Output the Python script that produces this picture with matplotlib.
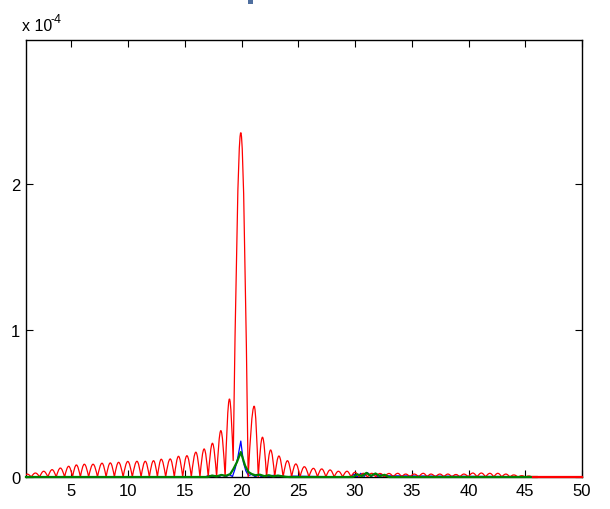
import matplotlib
matplotlib.use("Agg")
import matplotlib.pyplot as plt
from matplotlib.patches import Rectangle, PathPatch
from matplotlib.path import Path

plt.rcParams['font.family'] = ['Liberation Sans', 'DejaVu Sans']

# ---- data (values in units of 1e-4) ----
red_peak_x = [1.10, 1.83, 2.56, 3.30, 4.03, 4.76, 5.44, 6.14, 6.91, 7.70, 8.43, 9.16,
              9.97, 10.78, 11.51, 12.24, 12.92, 13.71, 14.44, 15.18, 15.97, 16.70, 17.43,
              18.17, 18.93, 19.93, 21.11, 21.84, 22.56, 23.29, 24.04, 24.78, 25.53, 26.33,
              27.06, 27.80, 28.53, 29.29, 29.99, 30.73, 31.47, 32.20, 32.99, 33.76, 34.46,
              35.22, 36.01, 36.69, 37.48, 38.18, 38.89, 39.59, 40.38, 41.13, 41.88, 42.58,
              43.29, 43.99, 44.70, 45.31]
red_peak_y = [0.020, 0.027, 0.039, 0.050, 0.061, 0.073, 0.082, 0.087, 0.087, 0.094, 0.096, 0.100,
              0.106, 0.107, 0.107, 0.111, 0.121, 0.123, 0.141, 0.145, 0.169, 0.191, 0.230,
              0.316, 0.532, 2.348, 0.483, 0.271, 0.184, 0.143, 0.111, 0.089, 0.070, 0.059,
              0.055, 0.048, 0.039, 0.039, 0.032, 0.025, 0.025, 0.024, 0.024, 0.025, 0.020,
              0.020, 0.025, 0.020, 0.020, 0.020, 0.017, 0.020, 0.027, 0.027, 0.025, 0.025,
              0.020, 0.014, 0.009, 0.007]
red_trough_x = [1.46, 2.20, 2.93, 3.66, 4.40, 5.10, 5.79, 6.52, 7.30, 8.06, 8.79, 9.56,
                10.37, 11.14, 11.87, 12.58, 13.31, 14.07, 14.81, 15.57, 16.33, 17.06, 17.80,
                18.55, 19.26, 20.58, 21.47, 22.20, 22.92, 23.66, 24.41, 25.15, 25.93, 26.69,
                27.43, 28.16, 28.91, 29.64, 30.36, 31.10, 31.83, 32.60, 33.37, 34.11, 34.84,
                35.61, 36.35, 37.08, 37.83, 38.53, 39.24, 39.98, 40.75, 41.50, 42.23, 42.93,
                43.64, 44.35, 45.00, 45.65]
red_trough_y = [0.0] * 24 + [0.110] + [0.0] * 35
red_start = (1.0, 0.015)
red_end_x = 50.0

blue_x = [1.0, 16.8, 17.1, 17.4, 17.7, 18.0, 18.3, 18.6, 18.9, 19.2, 19.43, 19.64, 19.93,
          20.16, 20.37, 20.6, 20.9, 21.2, 21.5, 21.8, 22.1, 22.4, 22.8, 23.2, 23.6, 24.0,
          24.4, 29.6, 29.9, 30.2, 30.5, 30.8, 31.1, 31.4, 31.7, 32.0, 32.3, 32.6, 32.9, 50.0]
blue_y = [0.0, 0.0, 0.012, 0.0, 0.010, 0.002, 0.014, 0.0, 0.016, 0.004, 0.057, 0.123, 0.245,
          0.100, 0.043, 0.010, 0.018, 0.002, 0.014, 0.0, 0.010, 0.002, 0.012, 0.0, 0.008, 0.0,
          0.006, 0.0, 0.020, 0.0, 0.025, 0.004, 0.030, 0.0, 0.022, 0.004, 0.018, 0.0, 0.008, 0.0]

green_x = [1.0, 17.0, 17.4, 17.8, 18.2, 18.6, 19.0, 19.28, 19.58, 19.93, 20.31, 20.60, 20.9,
           21.2, 21.6, 22.0, 22.4, 22.8, 23.2, 23.7, 24.2, 29.8, 30.2, 30.6, 31.0, 31.4,
           31.8, 32.2, 32.6, 33.0, 46.0]
green_y = [0.0, 0.0, 0.010, 0.004, 0.014, 0.008, 0.020, 0.055, 0.100, 0.170, 0.077, 0.034, 0.020,
           0.012, 0.016, 0.006, 0.012, 0.004, 0.010, 0.003, 0.0, 0.0, 0.018, 0.006, 0.028, 0.008,
           0.024, 0.006, 0.015, 0.0, 0.0]

x_ticks = [5, 10, 15, 20, 25, 30, 35, 40, 45, 50]
y_ticks = [0, 1e-4, 2e-4]
y_tick_labels = ['0', '1', '2']

scale = 1e-4

fig = plt.figure(figsize=(6.1, 5.1), dpi=100)
ax = fig.add_axes([26 / 610, 1 - 478 / 510, (582 - 26) / 610, (478 - 41) / 510])

ax.plot(blue_x, [v * scale for v in blue_y], color='#0000ff', lw=0.9, zorder=2)
ax.plot(green_x, [v * scale for v in green_y], color='#008000', lw=1.6,
        clip_on=False, zorder=4)

# red curve: rounded lobes drawn between the read peaks and troughs
verts = [(red_start[0], red_start[1] * scale)]
codes = [Path.MOVETO]
verts.append((red_peak_x[0], red_peak_y[0] * scale))
codes.append(Path.LINETO)
for i in range(len(red_peak_x)):
    xp, yp = red_peak_x[i], red_peak_y[i] * scale
    xt, yt = red_trough_x[i], red_trough_y[i] * scale
    dx = xt - xp
    verts += [(xp + 0.353 * dx, yp), (xp + 0.674 * dx, yt + 0.512 * (yp - yt)), (xt, yt)]
    codes += [Path.CURVE4] * 3
    if i + 1 < len(red_peak_x):
        xn, yn = red_peak_x[i + 1], red_peak_y[i + 1] * scale
        dx = xn - xt
        verts += [(xt + 0.326 * dx, yt + 0.512 * (yn - yt)), (xt + 0.647 * dx, yn), (xn, yn)]
        codes += [Path.CURVE4] * 3
ax.add_patch(PathPatch(Path(verts, codes), fill=False, edgecolor='#ff0000', lw=0.9, zorder=3))
ax.plot([red_trough_x[-1], red_end_x], [0, 0], color='#ff0000', lw=1.6, clip_on=False, zorder=5)

ax.set_xlim(1, 50)
ax.set_ylim(0, 2.98e-4)
ax.set_xticks(x_ticks)
ax.set_xticklabels([str(t) for t in x_ticks])
ax.set_yticks(y_ticks)
ax.set_yticklabels(y_tick_labels)
ax.tick_params(direction='in', length=5, width=0.8, top=True, right=True,
               labelsize=12, pad=4, colors='black')
for s in ax.spines.values():
    s.set_linewidth(1.0)
    s.set_color('black')

fig.text(22 / 610, 1 - 31 / 510, 'x 10', fontsize=11.5, ha='left', va='baseline')
fig.text(50.5 / 610, 1 - 23 / 510, '-4', fontsize=9, ha='left', va='baseline')
fig.patches.append(Rectangle((248 / 610, 1 - 5 / 510), 5 / 610, 5 / 510,
                             transform=fig.transFigure, facecolor='#4f6f9f',
                             edgecolor='none'))

fig.savefig('out.png', dpi=100, facecolor='white')
